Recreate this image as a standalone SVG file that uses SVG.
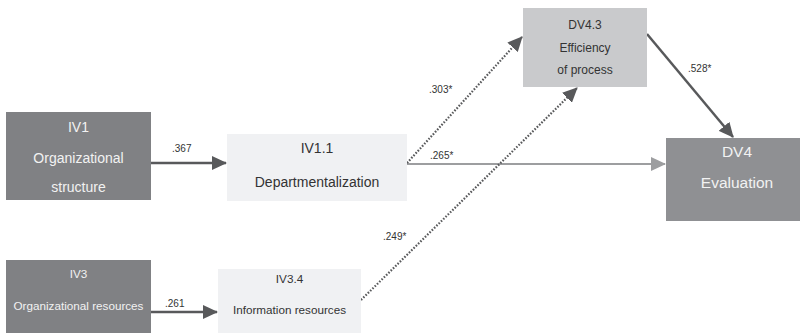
<svg xmlns="http://www.w3.org/2000/svg" width="800" height="333" viewBox="0 0 800 333">
<defs>
<style>
.t{font-family:"Liberation Sans",Arial,sans-serif;text-anchor:middle}
.w{fill:#f2f2f2}
.k{fill:#333}
.lbl{font-family:"Liberation Sans",Arial,sans-serif;font-size:10px;fill:#333}
.dark{fill:#808184}
.mid{fill:#8f9093}
.lg{fill:#c9cacc}
.vl{fill:#f0f1f3}
.sol{stroke:#58595b;stroke-width:2.5;fill:none}
.dot{stroke:#58595b;stroke-width:2.2;fill:none;stroke-dasharray:1.6 1.6}
.gr{stroke:#9d9ea0;stroke-width:2;fill:none}
</style>
<marker id="ad" markerUnits="userSpaceOnUse" markerWidth="16" markerHeight="14" refX="14" refY="7" orient="auto"><path d="M0,0 L15,7 L0,14 Z" fill="#58595b"/></marker>
<marker id="ag" markerUnits="userSpaceOnUse" markerWidth="16" markerHeight="14" refX="14" refY="7" orient="auto"><path d="M0,0 L15,7 L0,14 Z" fill="#9d9ea0"/></marker>
</defs>
<g id="connectors">
<line class="sol" x1="151" y1="163" x2="226" y2="163" marker-end="url(#ad)"/>
<line class="sol" x1="151" y1="312" x2="217" y2="312" marker-end="url(#ad)"/>
<line class="gr" x1="407" y1="164" x2="665" y2="164" marker-end="url(#ag)"/>
<line class="dot" x1="407" y1="163" x2="522" y2="37" marker-end="url(#ad)"/>
<line class="dot" x1="361" y1="300" x2="577" y2="88" marker-end="url(#ad)"/>
<line class="sol" x1="647" y1="34" x2="733" y2="137" marker-end="url(#ad)"/>
<text class="lbl" x="172" y="152">.367</text>
<text class="lbl" x="165" y="307">.261</text>
<text class="lbl" x="430" y="159">.265*</text>
<text class="lbl" x="429" y="93">.303*</text>
<text class="lbl" x="383" y="240">.249*</text>
<text class="lbl" x="688" y="72">.528*</text>
</g>
<g id="IV1">
<rect class="dark" x="6" y="112" width="145" height="88"/>
<text class="t w" x="78.5" y="132" font-size="14">IV1</text>
<text class="t w" x="78.5" y="163" font-size="14">Organizational</text>
<text class="t w" x="78.5" y="192" font-size="14">structure</text>
</g>
<g id="IV3">
<rect class="dark" x="6" y="260" width="145" height="73"/>
<text class="t w" x="78.5" y="278" font-size="11.7">IV3</text>
<text class="t w" x="78.5" y="310" font-size="11.7">Organizational resources</text>
</g>
<g id="IV1_1">
<rect class="vl" x="227" y="134" width="180" height="67"/>
<text class="t k" x="317" y="153" font-size="14">IV1.1</text>
<text class="t k" x="317" y="187" font-size="14">Departmentalization</text>
</g>
<g id="IV3_4">
<rect class="vl" x="218" y="269" width="143" height="64"/>
<text class="t k" x="289.5" y="283" font-size="11.7">IV3.4</text>
<text class="t k" x="289.5" y="314" font-size="11.7">Information resources</text>
</g>
<g id="DV4_3">
<rect class="lg" x="523" y="8" width="124" height="79"/>
<text class="t k" x="585" y="29" font-size="12">DV4.3</text>
<text class="t k" x="585" y="52" font-size="12">Efficiency</text>
<text class="t k" x="585" y="74" font-size="12">of process</text>
</g>
<g id="DV4">
<rect class="mid" x="666" y="138" width="134" height="83"/>
<text class="t w" x="737" y="157" font-size="15.5">DV4</text>
<text class="t w" x="737" y="188" font-size="15.5">Evaluation</text>
</g>
</svg>
